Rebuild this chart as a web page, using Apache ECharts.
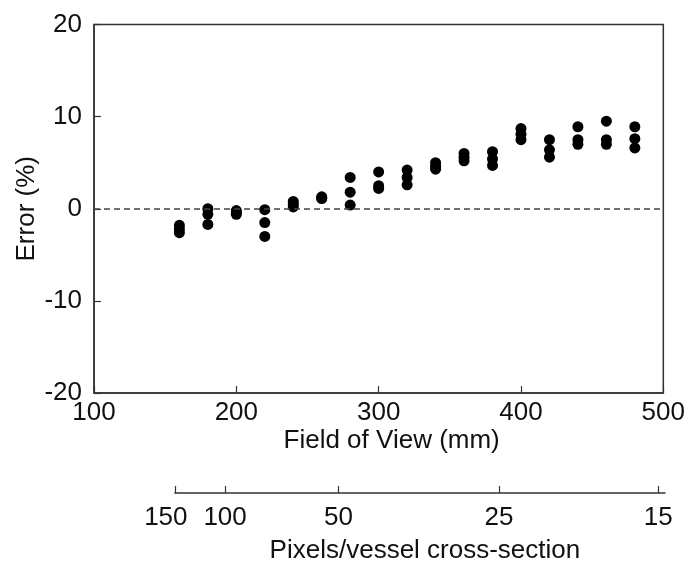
<!DOCTYPE html>
<html>
<head>
<meta charset="utf-8">
<script src="https://cdn.jsdelivr.net/npm/echarts@6/dist/echarts.min.js"></script>
<style>
html,body{margin:0;padding:0;background:#fff;}
#chart{width:688px;height:567px;}
</style>
</head>
<body>
<div id="chart"></div>
<script>
// Field of view (mm) for each measurement column
var fovValues = [160, 180, 200, 220, 240, 260, 280, 300, 320, 340, 360, 380, 400, 420, 440, 460, 480];
// Error (%) — three measurements per field of view
var errorHigh = [-1.8, 0.0, -0.2, -0.1, 0.8, 1.3, 3.4, 4.0, 4.2, 5.0, 6.0, 6.2, 8.7, 7.5, 8.9, 9.5, 8.9];
var errorMid  = [-2.2, -0.6, -0.4, -1.5, 0.5, 1.2, 1.8, 2.5, 3.4, 4.6, 5.6, 5.4, 8.1, 6.4, 7.5, 7.5, 7.6];
var errorLow  = [-2.6, -1.7, -0.6, -3.0, 0.2, 1.1, 0.4, 2.2, 2.6, 4.3, 5.2, 4.7, 7.5, 5.6, 7.0, 7.0, 6.6];
// Secondary axis tick labels (pixels per vessel cross-section)
var pixelTicks = [150, 100, 50, 25, 15];
var pixelConst = 3.68e6; // pixels ≈ K / FOV^2

var fovTicksMain = [100, 200, 300, 400, 500];
var errorTicks = [-20, -10, 0, 10, 20];

function pixToFov(p) { return Math.sqrt(pixelConst / p); }

var FONT = 'Liberation Sans, Arial, Helvetica, sans-serif';
var TXT = '#111';
var LINE = '#333';

var gridLeft = 94, gridRight = 23;
var plotW = 688 - gridLeft - gridRight;
var fovMin = 100, fovMax = 500;
var secMin = pixToFov(pixelTicks[0]);
var secLeft = gridLeft + (secMin - fovMin) * plotW / (fovMax - fovMin);

function pts(arr) { return fovValues.map(function (f, i) { return [f, arr[i]]; }); }

var secTickVals = pixelTicks.map(pixToFov);

var chart = echarts.init(document.getElementById('chart'), null, {renderer: 'canvas'});
chart.setOption({
  animation: false,
  backgroundColor: '#fff',
  textStyle: {fontFamily: FONT},
  grid: [
    {left: gridLeft, right: gridRight, top: 24.5, bottom: 174, show: true, borderColor: LINE, borderWidth: 1.5, backgroundColor: 'transparent'},
    {left: secLeft, right: gridRight, top: 470, bottom: 74}
  ],
  xAxis: [
    {
      type: 'value', gridIndex: 0, min: fovMin, max: fovMax, interval: 100,
      name: 'Field of View (mm)', nameLocation: 'middle', nameGap: 35, nameMoveOverlap: false,
      nameTextStyle: {fontSize: 26, color: TXT, fontFamily: FONT, padding: [0, 0, 0, 26]},
      axisLine: {show: true, onZero: false, lineStyle: {color: LINE, width: 1.5}},
      axisTick: {show: true, inside: true, length: 7, lineStyle: {color: LINE, width: 1.2}},
      axisLabel: {fontSize: 26, color: TXT, margin: 7, fontFamily: FONT},
      splitLine: {show: false}
    },
    {
      type: 'value', gridIndex: 1, min: secMin, max: fovMax, position: 'bottom',
      name: 'Pixels/vessel cross-section', nameLocation: 'middle', nameGap: 45, nameMoveOverlap: false,
      nameTextStyle: {fontSize: 26, color: TXT, fontFamily: FONT, padding: [0, 0, 0, 10]},
      axisLine: {show: true, onZero: false, lineStyle: {color: LINE, width: 1.5}},
      axisTick: {show: true, inside: true, length: 7, customValues: secTickVals, lineStyle: {color: LINE, width: 1.2}},
      axisLabel: {
        fontSize: 26, color: TXT, margin: 12, fontFamily: FONT,
        customValues: secTickVals,
        formatter: function (v) {
          var best = 0, bd = Infinity;
          secTickVals.forEach(function (t, i) { var d = Math.abs(t - v); if (d < bd) { bd = d; best = i; } });
          var p = pixelTicks[best];
          if (best === 0) return '{l|' + p + '}';
          return '' + p;
        },
        rich: {l: {fontSize: 26, color: TXT, fontFamily: FONT, padding: [0, 18, 0, 0]}}
      },
      splitLine: {show: false}
    }
  ],
  yAxis: [
    {
      type: 'value', gridIndex: 0, min: -20, max: 20, interval: 10,
      name: 'Error (%)', nameLocation: 'middle', nameGap: 54, nameMoveOverlap: false,
      nameTextStyle: {fontSize: 26, color: TXT, fontFamily: FONT},
      axisLine: {show: true, onZero: false, lineStyle: {color: LINE, width: 1.5}},
      axisTick: {show: true, inside: true, length: 7, lineStyle: {color: LINE, width: 1.2}},
      axisLabel: {fontSize: 26, color: TXT, margin: 12, fontFamily: FONT},
      splitLine: {show: false}
    },
    {type: 'value', gridIndex: 1, min: 0, max: 1, show: false}
  ],
  series: [
    {
      type: 'scatter', xAxisIndex: 0, yAxisIndex: 0, data: pts(errorHigh),
      symbol: 'circle', symbolSize: 11, itemStyle: {color: '#000', opacity: 1},
      markLine: {
        silent: true, symbol: 'none', label: {show: false},
        lineStyle: {type: [6, 4], color: '#444', width: 1.5},
        data: [{yAxis: 0}]
      }
    },
    {type: 'scatter', xAxisIndex: 0, yAxisIndex: 0, data: pts(errorMid), symbol: 'circle', symbolSize: 11, itemStyle: {color: '#000', opacity: 1}},
    {type: 'scatter', xAxisIndex: 0, yAxisIndex: 0, data: pts(errorLow), symbol: 'circle', symbolSize: 11, itemStyle: {color: '#000', opacity: 1}}
  ]
});
</script>
</body>
</html>
